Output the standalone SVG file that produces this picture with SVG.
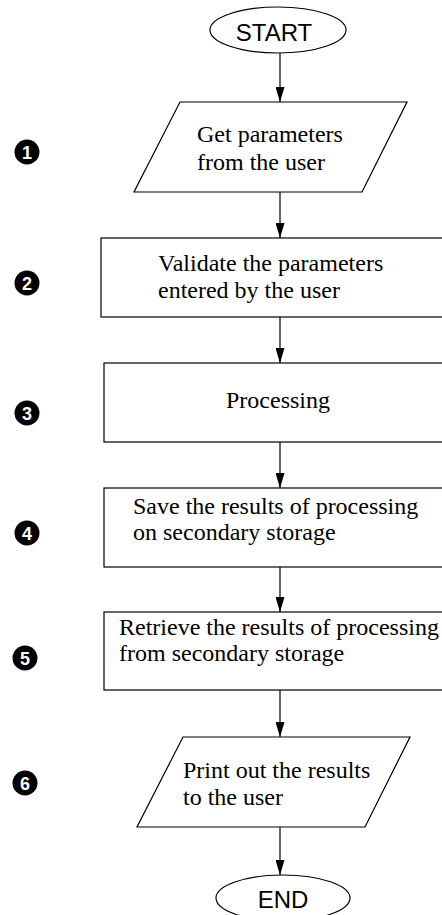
<svg xmlns="http://www.w3.org/2000/svg" width="442" height="915" viewBox="0 0 442 915">
<style>
.shape{fill:#fff;stroke:#000;stroke-width:1.2}
.t{font-family:"Liberation Serif","Times New Roman",serif;font-size:24px;fill:#000}
.s{font-family:"Liberation Sans",Arial,sans-serif;font-size:24px;fill:#000;text-anchor:middle}
.edge{stroke:#000;stroke-width:1.2;fill:none;marker-end:url(#ah)}
.badge circle{fill:#000}
.badge text{font-family:"Liberation Sans",Arial,sans-serif;font-weight:bold;font-size:18px;fill:#fff;text-anchor:middle}
</style>
<defs>
<marker id="ah" markerUnits="userSpaceOnUse" markerWidth="15" markerHeight="9" refX="15" refY="4.5" orient="auto" viewBox="0 0 15 9">
<path d="M0,0 L15,4.5 L0,9 Z" fill="#000"/>
</marker>
</defs>
<rect width="442" height="915" fill="#fff"/>
<g id="connectors">
<line class="edge" x1="280" y1="53" x2="280" y2="102"/>
<line class="edge" x1="280" y1="192" x2="280" y2="238"/>
<line class="edge" x1="280" y1="317" x2="280" y2="363"/>
<line class="edge" x1="280" y1="442" x2="280" y2="488"/>
<line class="edge" x1="280" y1="567" x2="280" y2="612"/>
<line class="edge" x1="280" y1="690" x2="280" y2="737"/>
<line class="edge" x1="280" y1="827" x2="280" y2="875"/>
</g>
<g id="start">
<ellipse class="shape" cx="278" cy="30" rx="68" ry="23"/>
<text class="s" x="274" y="41">START</text>
</g>
<g id="step1">
<polygon class="shape" points="180,102 407,102 362,192 134,192"/>
<text class="t" x="197" y="142">Get parameters</text>
<text class="t" x="197" y="170">from the user</text>
</g>
<g id="step2">
<rect class="shape" x="101" y="238" width="345" height="79"/>
<text class="t" x="158" y="271">Validate the parameters</text>
<text class="t" x="158" y="298">entered by the user</text>
</g>
<g id="step3">
<rect class="shape" x="104" y="363" width="342" height="79"/>
<text class="t" x="278" y="408" text-anchor="middle">Processing</text>
</g>
<g id="step4">
<rect class="shape" x="104" y="488" width="342" height="79"/>
<text class="t" x="133" y="514">Save the results of processing</text>
<text class="t" x="133" y="540">on secondary storage</text>
</g>
<g id="step5">
<rect class="shape" x="104" y="612" width="342" height="78"/>
<text class="t" x="119" y="635">Retrieve the results of processing</text>
<text class="t" x="119" y="661">from secondary storage</text>
</g>
<g id="step6">
<polygon class="shape" points="183,737 410,737 365,827 137,827"/>
<text class="t" x="183" y="778">Print out the results</text>
<text class="t" x="183" y="805">to the user</text>
</g>
<g id="end">
<ellipse class="shape" cx="283" cy="898" rx="67" ry="23"/>
<text class="s" x="283" y="908">END</text>
</g>
<g id="badge1" class="badge"><circle cx="27" cy="152" r="12.5"/><text x="27" y="158.5">1</text></g>
<g id="badge2" class="badge"><circle cx="27" cy="283" r="12.5"/><text x="27" y="289.5">2</text></g>
<g id="badge3" class="badge"><circle cx="27" cy="413" r="12.5"/><text x="27" y="419.5">3</text></g>
<g id="badge4" class="badge"><circle cx="27" cy="533" r="12.5"/><text x="27" y="539.5">4</text></g>
<g id="badge5" class="badge"><circle cx="25" cy="658" r="12.5"/><text x="25" y="664.5">5</text></g>
<g id="badge6" class="badge"><circle cx="25" cy="783" r="12.5"/><text x="25" y="789.5">6</text></g>
</svg>
